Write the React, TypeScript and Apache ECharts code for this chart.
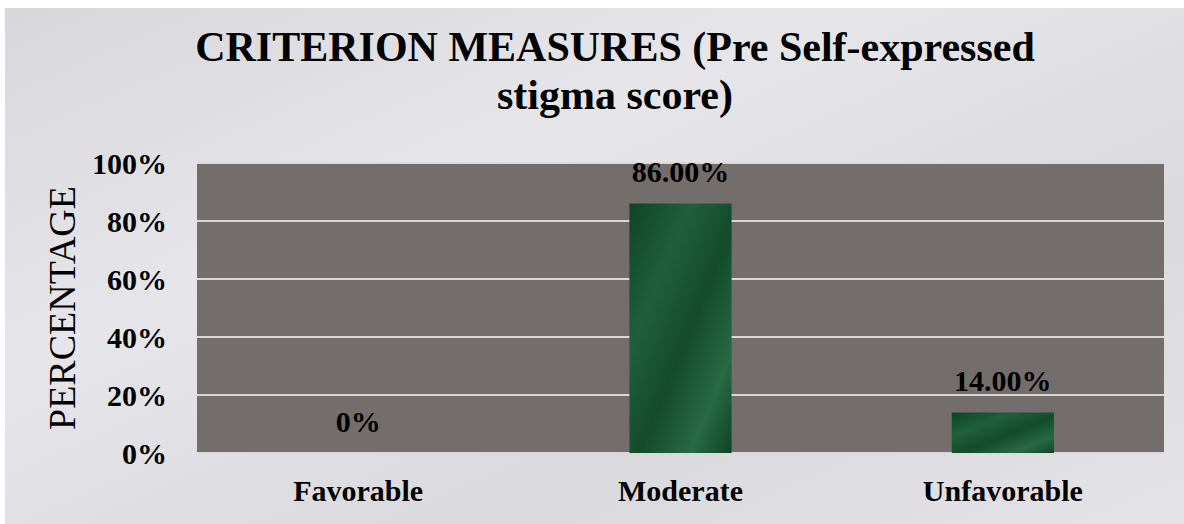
import React, { useEffect, useRef } from "react";
import * as echarts from "echarts";

const categories = ["Favorable", "Moderate", "Unfavorable"];
const values = [0, 86, 14];
const yTicks = [0, 20, 40, 60, 80, 100];
const titleText = "CRITERION MEASURES (Pre Self-expressed\nstigma score)";
const yName = "PERCENTAGE";

const FONT = "'Liberation Serif', 'Times New Roman', serif";

export default function App() {
  const ref = useRef<HTMLDivElement>(null);
  useEffect(() => {
    if (!ref.current) return;
    const chart = echarts.init(ref.current, undefined, { renderer: "svg" });
    chart.setOption({
      animation: false,
      backgroundColor: {
        type: "linear",
        x: 0, y: 0, x2: 1, y2: 1,
        colorStops: [
          { offset: 0, color: "#D8D8DC" },
          { offset: 0.35, color: "#E6E6EA" },
          { offset: 0.7, color: "#DADADE" },
          { offset: 1, color: "#E4E4E8" },
        ],
      },
      title: {
        text: titleText,
        left: 605,
        top: 10,
        textAlign: "center",
        textStyle: {
          fontFamily: FONT,
          fontWeight: "bold",
          fontSize: 42,
          lineHeight: 48,
          color: "#000",
        },
      },
      grid: {
        left: 192,
        right: 20,
        top: 155,
        bottom: 71,
        show: true,
        backgroundColor: "#736E6C",
        borderWidth: 0,
      },
      xAxis: {
        type: "category",
        data: categories,
        axisLine: { show: true, lineStyle: { color: "#D9D9D9", width: 2 } },
        axisTick: { show: false },
        axisLabel: {
          fontFamily: FONT,
          fontWeight: "bold",
          fontSize: 30,
          color: "#000",
          margin: 22,
        },
      },
      yAxis: {
        type: "value",
        min: yTicks[0],
        max: yTicks[yTicks.length - 1],
        interval: 20,
        name: yName,
        nameLocation: "middle",
        nameGap: 112,
        nameTextStyle: {
          fontFamily: FONT,
          fontSize: 38,
          color: "#000",
        },
        axisLine: { show: false },
        axisTick: { show: false },
        splitLine: { show: true, lineStyle: { color: "#D9D9D9", width: 2 } },
        axisLabel: {
          formatter: "{value}%",
          fontFamily: FONT,
          fontWeight: "bold",
          fontSize: 30,
          color: "#000",
          margin: 30,
        },
      },
      series: [
        {
          type: "bar",
          data: values,
          barWidth: "31.7%",
          itemStyle: {
            color: {
              type: "linear",
              x: 0, y: 0, x2: 1, y2: 1,
              colorStops: [
                { offset: 0, color: "#0F4425" },
                { offset: 0.3, color: "#1F603B" },
                { offset: 0.55, color: "#144B2B" },
                { offset: 0.8, color: "#276A43" },
                { offset: 1, color: "#104426" },
              ],
            },
          },
          label: {
            show: true,
            position: "top",
            distance: 17,
            formatter: (p: any) => (p.value === 0 ? "0%" : p.value.toFixed(2) + "%"),
            fontFamily: FONT,
            fontWeight: "bold",
            fontSize: 30,
            color: "#000",
          },
        },
      ],
    });
    return () => chart.dispose();
  }, []);
  return (
    <div
      ref={ref}
      style={{ position: "absolute", left: 5, top: 8, width: 1179, height: 516 }}
    />
  );
}
